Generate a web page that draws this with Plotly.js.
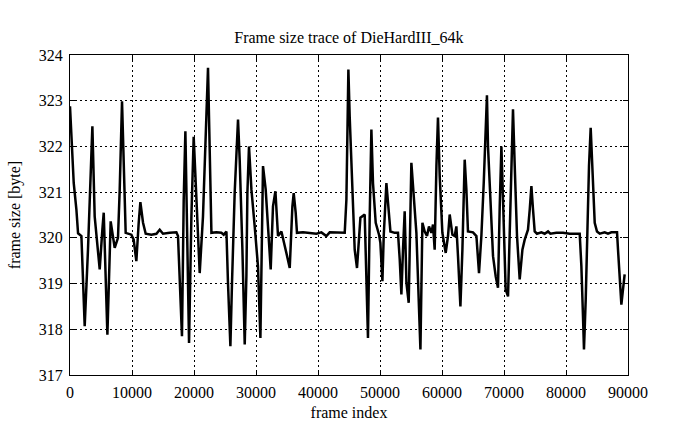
<!DOCTYPE html>
<html>
<head>
<meta charset="utf-8">
<script src="https://cdn.plot.ly/plotly-3.0.1.min.js"></script>
<style>html,body{margin:0;padding:0;background:#fff;}#chart{width:695px;height:429px;}</style>
</head>
<body>
<div id="chart"></div>
<script>
const frameIndex = [0,320,600,1030,1300,1840,2100,2370,2900,3290,3610,3980,4520,4790,5220,5440,6030,6560,7210,7740,8020,8390,8980,9900,10270,10700,11080,11350,11780,12210,13130,13940,14470,15000,16080,17160,17420,17690,18060,18340,18610,19200,19580,19950,20390,20920,21450,21840,22260,22420,22810,23610,24420,24790,25230,25480,25870,26130,26560,27100,27370,27810,28180,28450,28610,28870,29260,29790,30320,30710,30870,31130,31560,31940,32370,32740,33130,33550,34100,34900,35440,35870,36080,36400,36610,37580,38660,39740,40550,41350,41890,42970,44310,44580,44900,45110,45550,45920,46290,46610,46840,47530,47810,48060,48340,48610,48870,49310,49840,50060,50390,50600,51030,51290,51680,52370,52900,53180,53450,53710,53980,54260,54630,55060,55320,55870,56520,56840,57210,57580,57900,58290,58550,58820,59100,59350,59630,60060,60600,60970,61240,61680,62050,62320,62580,62970,63290,63660,63930,64190,65000,65550,65970,66350,66730,67000,67250,67420,67800,68230,68660,69030,69310,69580,69840,70270,70650,70920,71190,71450,71730,72100,72530,72970,73340,73870,74150,74420,74680,74950,75320,76030,76560,77100,77480,78450,79520,80600,82210,82480,82740,82900,83180,83390,83710,83980,84260,84630,85000,85440,86240,86770,87320,88230,88390,88660,88930,89190,89460];
const frameSize = [322.88,321.79,321.2,320.62,320.1,320.04,319.1,318.07,319.74,321.35,322.44,320.47,319.74,319.31,320.18,320.55,317.88,320.36,319.78,320.0,321.06,322.99,320.11,320.07,319.96,319.49,320.33,320.78,320.33,320.09,320.07,320.09,320.18,320.09,320.11,320.12,320.04,319.02,317.85,320.84,322.33,317.70,320.47,322.21,320.84,319.23,320.47,322.22,323.72,322.66,320.11,320.12,320.11,320.07,320.14,319.02,317.63,319.02,320.98,322.59,321.71,319.74,317.67,319.16,320.98,322.0,321.06,320.25,319.38,317.81,319.02,321.57,321.06,320.33,319.31,320.69,321.02,320.04,320.14,319.67,319.34,320.69,320.98,320.55,320.11,320.12,320.11,320.09,320.12,320.04,320.12,320.11,320.11,320.84,323.68,322.66,321.2,319.74,319.34,320.04,320.44,320.51,319.02,317.81,320.47,322.37,321.2,320.33,320.07,319.89,319.05,320.04,321.2,320.77,320.14,320.11,320.11,319.53,318.76,319.74,320.58,319.02,318.58,321.64,321.2,320.11,317.56,320.33,320.14,320.04,320.25,320.11,320.29,319.74,321.57,322.63,321.35,320.11,319.67,320.04,320.51,320.07,320.04,320.25,319.60,318.50,319.74,321.71,321.06,320.14,320.12,320.04,319.23,320.04,321.2,322.22,323.12,322.0,320.84,319.60,319.16,318.91,320.69,322.0,320.84,318.87,318.72,320.11,321.93,322.81,321.57,320.04,319.09,319.74,319.96,320.18,320.62,321.13,320.62,320.14,320.09,320.12,320.09,320.14,320.09,320.11,320.11,320.09,320.09,319.38,318.28,317.56,318.65,320.11,321.57,322.41,321.57,320.33,320.14,320.09,320.12,320.09,320.12,320.12,319.74,319.16,318.54,318.87,319.2];
const xTicks = [0,10000,20000,30000,40000,50000,60000,70000,80000,90000];
const yTicks = [317,318,319,320,321,322,323,324];

const fam = '"Liberation Serif", "DejaVu Serif", serif';
const font = {family: fam, size: 16, color: '#000'};
const tickFont = {family: fam, size: 16, color: '#000'};
const axisCommon = {
  showline: true, linecolor: '#000', linewidth: 1, mirror: 'allticks',
  ticks: 'inside', ticklen: 5, tickcolor: '#000', tickwidth: 1,
  showgrid: true, gridcolor: '#000', gridwidth: 1, griddash: '2px,3px',
  zeroline: false, tickfont: tickFont
};

Plotly.newPlot('chart', [{
  x: frameIndex, y: frameSize, type: 'scatter', mode: 'lines',
  line: {color: '#000', width: 2.5}, hoverinfo: 'skip'
}], {
  width: 695, height: 429,
  margin: {l: 70, r: 67, t: 55, b: 54},
  paper_bgcolor: '#fff', plot_bgcolor: '#fff',
  showlegend: false,
  font: font,
  title: {text: 'Frame size trace of DieHardIII_64k', font: font, x: 0.502, xanchor: 'center', y: 0.912, yanchor: 'middle'},
  xaxis: Object.assign({}, axisCommon, {
    range: [0, 90000], tickvals: xTicks, ticktext: xTicks.map(String),
    ticklabelstandoff: 3,
    title: {text: 'frame index', font: font, standoff: 6}
  }),
  yaxis: Object.assign({}, axisCommon, {
    range: [317, 324], tickvals: yTicks, ticktext: yTicks.map(String),
    ticklabelstandoff: 3,
    title: {text: 'frame size [byte]', font: font, standoff: 14}
  })
}, {displayModeBar: false, staticPlot: true});
</script>
</body>
</html>
